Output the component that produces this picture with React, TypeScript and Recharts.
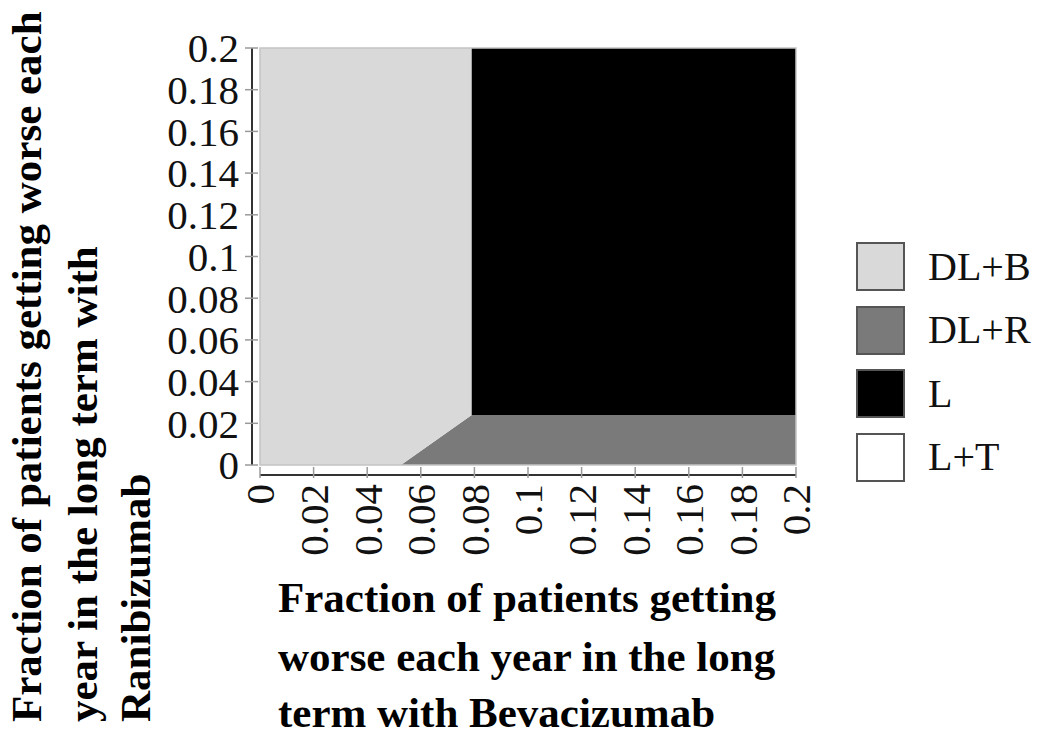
import { ComposedChart, Area, XAxis, YAxis, ReferenceArea, Legend, Label } from "recharts";

// Bevacizumab rate (x) at each boundary vertex; stacked heights of each region
const bevacizumab = [0, 0.0526, 0.079, 0.079, 0.2];
const dlR = [0, 0, 0.024, 0.024, 0.024];
const dlB = [0.2, 0.2, 0.176, 0, 0];
const lOnly = [0, 0, 0, 0.176, 0.176];

const ticks = [0, 0.02, 0.04, 0.06, 0.08, 0.1, 0.12, 0.14, 0.16, 0.18, 0.2];

const legendNames = ["DL+B", "DL+R", "L", "L+T"];
const legendColors = ["#d9d9d9", "#7a7a7a", "#000000", "#ffffff"];

const xTitle = ["Fraction of patients getting", "worse each year in the long", "term with Bevacizumab"];
const yTitle = ["Fraction of patients getting worse each", "year in the long term with", "Ranibizumab"];

const data = bevacizumab.map((x, i) => ({ x, dlR: dlR[i], dlB: dlB[i], l: lOnly[i] }));

const SERIF = "'Liberation Serif', 'Times New Roman', serif";

function YTick({ x, y, payload }: any) {
  return (
    <g>
      <line x1={x - 15} x2={x - 2} y1={y} y2={y} stroke="#9a9a9a" strokeWidth={1.5} />
      <text x={x - 21} y={y} dy="0.35em" textAnchor="end" fontFamily={SERIF} fontSize={41} fill="#111">
        {String(payload.value)}
      </text>
    </g>
  );
}

function XTick({ x, y, payload }: any) {
  const ty = y + 19;
  return (
    <g>
      <line x1={x} x2={x} y1={y + 2} y2={y + 13} stroke="#9a9a9a" strokeWidth={1.5} />
      <text
        x={x}
        y={ty}
        dy="0.35em"
        textAnchor="end"
        fontFamily={SERIF}
        fontSize={41}
        fill="#111"
        transform={`rotate(-90, ${x}, ${ty})`}
      >
        {String(payload.value)}
      </text>
    </g>
  );
}

function LegendBox() {
  return (
    <div style={{ fontFamily: SERIF }}>
      {legendNames.map((name, i) => (
        <div key={name} style={{ display: "flex", alignItems: "center", height: 63.5 }}>
          <div
            style={{
              width: 45,
              height: 45,
              background: legendColors[i],
              border: "2px solid #555",
              marginRight: 23,
            }}
          />
          <span style={{ fontSize: 40, color: "#111", lineHeight: 1 }}>{name}</span>
        </div>
      ))}
    </div>
  );
}

const xLineY = [612, 671, 727];
const yLineX = [41, 97, 150];

export default function App() {
  return (
    <div style={{ position: "absolute", left: 0, top: 0, width: 1050, height: 737, background: "#fff" }}>
      <ComposedChart width={1050} height={737} data={data} margin={{ top: 48, right: 254, bottom: 0, left: 0 }}>
        <XAxis
          dataKey="x"
          type="number"
          domain={[0, 0.2]}
          ticks={ticks}
          interval={0}
          height={272}
          tickSize={0}
          tickMargin={0}
          tickLine={false}
          tick={<XTick />}
          axisLine={{ stroke: "#333", strokeWidth: 2, transform: "translate(0,10)" }}
        >
          <Label
            content={() => (
              <text fontFamily={SERIF} fontSize={43} fontWeight="bold" fill="#000">
                {xTitle.map((line, i) => (
                  <tspan key={i} x={278} y={xLineY[i]}>
                    {line}
                  </tspan>
                ))}
              </text>
            )}
          />
        </XAxis>
        <YAxis
          type="number"
          domain={[0, 0.2]}
          ticks={ticks}
          interval={0}
          width={260}
          tickSize={0}
          tickMargin={0}
          tickLine={false}
          tick={<YTick />}
          axisLine={{ stroke: "#333", strokeWidth: 2, transform: "translate(-8,0)" }}
          allowDataOverflow
        >
          <Label
            content={() => (
              <text
                fontFamily={SERIF}
                fontSize={43}
                fontWeight="bold"
                fill="#000"
                transform="rotate(-90, 0, 0)"
              >
                {yTitle.map((line, i) => (
                  <tspan key={i} x={-722} y={yLineX[i]}>
                    {line}
                  </tspan>
                ))}
              </text>
            )}
          />
        </YAxis>
        <Area
          dataKey="dlR"
          stackId="a"
          type="linear"
          fill="#7a7a7a"
          fillOpacity={1}
          stroke="none"
          dot={false}
          activeDot={false}
          isAnimationActive={false}
        />
        <Area
          dataKey="dlB"
          stackId="a"
          type="linear"
          fill="#d9d9d9"
          fillOpacity={1}
          stroke="none"
          dot={false}
          activeDot={false}
          isAnimationActive={false}
        />
        <Area
          dataKey="l"
          stackId="a"
          type="linear"
          fill="#000000"
          fillOpacity={1}
          stroke="none"
          dot={false}
          activeDot={false}
          isAnimationActive={false}
        />
        <ReferenceArea x1={0} x2={0.2} y1={0} y2={0.2} fill="none" stroke="#c4c4c4" strokeWidth={1.5} />
        <Legend
          layout="vertical"
          align="center"
          verticalAlign="middle"
          content={<LegendBox />}
          wrapperStyle={{ left: 856, top: 235, width: 194 }}
        />
      </ComposedChart>
    </div>
  );
}
